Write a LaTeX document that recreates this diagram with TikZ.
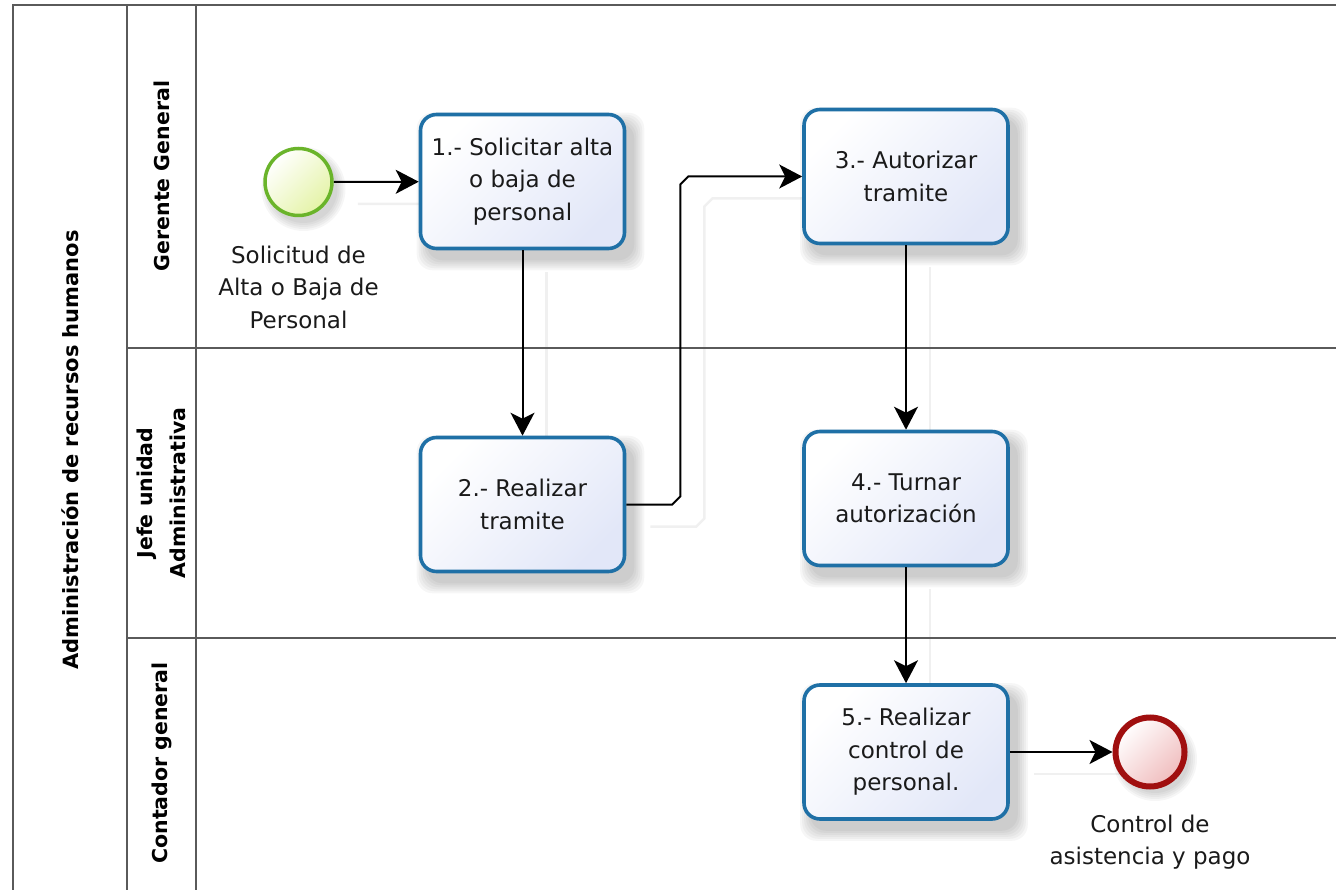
\documentclass[tikz,border=0pt]{standalone}
\usepackage{fontspec}
\setmainfont{DejaVu Sans}
\usetikzlibrary{arrows.meta,calc,backgrounds}

\definecolor{taskblue}{HTML}{1F70A6}
\definecolor{taskfill}{HTML}{E2E7F8}
\definecolor{startgreen}{HTML}{6AB42A}
\definecolor{startfill}{HTML}{E4F3A6}
\definecolor{endred}{HTML}{A00F0F}
\definecolor{endfill}{HTML}{F0BCBD}
\definecolor{laneline}{HTML}{5A5A5A}
\definecolor{inkgray}{HTML}{1A1A1A}

\tikzset{
  lane/.style={draw=laneline, line width=2pt},
  task/.style={rectangle, rounded corners=16pt, draw=taskblue, line width=3.6pt,
    minimum width=204pt, minimum height=134pt, align=center, text=inkgray,
    font=\fontsize{23}{32.5}\selectfont,
    top color=white, bottom color=taskfill, shading angle=45},
  startev/.style={circle, draw=startgreen, line width=3.5pt, minimum size=67pt,
    inner sep=0pt, top color=white, bottom color=startfill, shading angle=45},
  endev/.style={circle, draw=endred, line width=6pt, minimum size=69pt,
    inner sep=0pt, top color=white, bottom color=endfill, shading angle=45},
  evlabel/.style={align=center, text=inkgray, font=\fontsize{23}{32.5}\selectfont},
  lanelabel/.style={rotate=90, align=center, text=black,
    font=\bfseries\fontsize{20.5}{33}\selectfont},
  flow/.style={draw=black, line width=2pt,
    -{Stealth[length=23pt, width=24pt, inset=6pt]}},
  flowshade/.style={draw=black!6, line width=2.5pt},
  softshade/.style={fill=black, opacity=0.035},
}

\begin{document}
\begin{tikzpicture}[x=1pt, y=-1pt]
  \useasboundingbox (0,0) rectangle (1336,890);

  % pool and lane frame
  \draw[lane] (13,890) -- (13,5) -- (1336,5);
  \draw[lane] (127,5) -- (127,890);
  \draw[lane] (196,5) -- (196,890);
  \draw[lane] (127,348) -- (1336,348);
  \draw[lane] (127,638) -- (1336,638);

  % pool and lane titles
  \node[lanelabel, font=\bfseries\fontsize{21}{33}\selectfont] (pool) at (70,450)
    {Administración de recursos humanos};
  \node[lanelabel] (lane1) at (162,176) {Gerente General};
  \node[lanelabel] (lane2) at (161,493) {Jefe unidad\\Administrativa};
  \node[lanelabel] (lane3) at (162,763) {Contador general};

  % events and tasks
  \node[startev] (se) at (298.5,182) {};
  \node[evlabel] (sel) at (298.5,287) {Solicitud de\\Alta o Baja de\\Personal};
  \node[task] (t1) at (522.5,181.5) {1.- Solicitar alta\\o baja de\\personal};
  \node[task] (t2) at (522.5,504.5) {2.- Realizar\\tramite};
  \node[task] (t3) at (906,176.5) {3.- Autorizar\\tramite};
  \node[task] (t4) at (906,498.5) {4.- Turnar\\autorización};
  \node[task] (t5) at (906,752) {5.- Realizar\\control de\\personal.};
  \node[endev] (ee) at (1150,752) {};
  \node[evlabel] (eel) at (1150,842) {Control de\\asistencia y pago};

  % soft shadows behind shapes and sequence flows
  \begin{pgfonlayer}{background}
    \begin{scope}[transform canvas={shift={(24,22)}}]
      \draw[flowshade] (se) -- (t1);
      \draw[flowshade] (t1) -- (t2);
      \draw[flowshade] (t2.east) -- ++(46,0) -- ++(8,-8) -- ++(0,-312)
        -- ++(8,-8) -- (t3.west);
      \draw[flowshade] (t3) -- (t4);
      \draw[flowshade] (t4) -- (t5);
      \draw[flowshade] (t5) -- (ee);
    \end{scope}
    \foreach \n in {t1,t2,t3,t4,t5}{
      \foreach \g in {0,2,4,6,8,10}{
        \fill[softshade, rounded corners=16pt]
          ($(\n.north west)+(8-\g,10-\g)$) rectangle ($(\n.south east)+(8+\g,10+\g)$);
      }
    }
    \foreach \n in {se,ee}{
      \foreach \g in {0,2,4,6,8}{
        \fill[softshade] ($(\n.center)+(5,7)$) circle[radius=34pt+\g pt];
      }
    }
  \end{pgfonlayer}

  % sequence flows
  \draw[flow] (se) -- (t1);
  \draw[flow] (t1) -- (t2);
  \draw[flow] (t2.east) -- ++(46,0) -- ++(8,-8) -- ++(0,-312) -- ++(8,-8) -- (t3.west);
  \draw[flow] (t3) -- (t4);
  \draw[flow] (t4) -- (t5);
  \draw[flow] (t5) -- (ee);
\end{tikzpicture}
\end{document}
